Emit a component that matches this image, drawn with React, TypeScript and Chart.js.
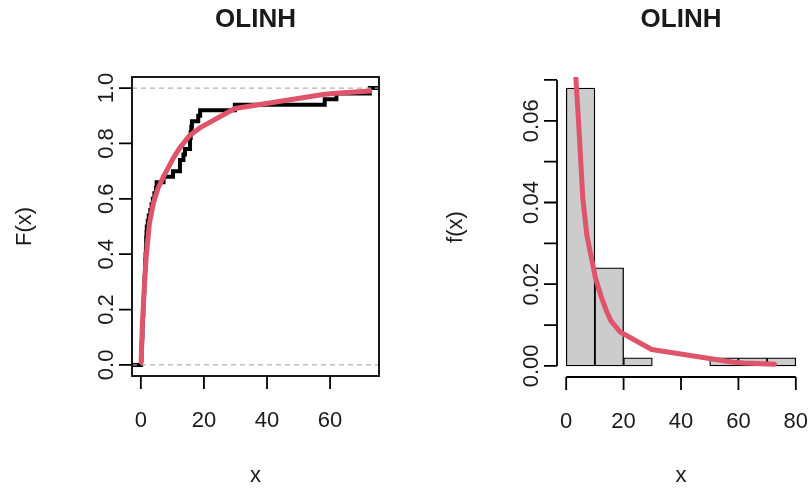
import React, { useEffect, useRef } from 'react';
import { Chart, registerables } from 'chart.js';

Chart.register(...registerables);

// ---------- data ----------
const TITLE = 'OLINH';

// sorted observations (n = 50) behind the empirical CDF
const olinh = [
  0.1, 0.2, 0.2, 0.3, 0.4, 0.5, 0.5, 0.6, 0.7, 0.8, 0.8, 0.9, 1.0, 1.1, 1.1, 1.2, 1.3, 1.4, 1.4, 1.5,
  1.6, 1.7, 1.7, 1.8, 1.9, 2.2, 2.5, 3.0, 3.4, 3.8, 4.3, 4.8, 5.0, 7.2, 10.2, 12.4, 12.4, 13.5, 14.0,
  15.6, 15.6, 15.8, 16.0, 16.2, 18.2, 18.8, 29.8, 58.3, 62.0, 72.6,
];

// fitted CDF (red curve, left panel)
const cdfX = [0.1, 0.5, 1.05, 1.7, 2.7, 4.0, 5.5, 7.2, 10.2, 12.4, 15.6, 18.8, 29.8, 58.3, 62.0, 72.6];
const cdfY = [0.01, 0.15, 0.27, 0.39, 0.51, 0.586, 0.64, 0.68, 0.745, 0.785, 0.83, 0.857, 0.926, 0.978, 0.981, 0.989];

// histogram (right panel)
const histBreaks = [0, 10, 20, 30, 40, 50, 60, 70, 80];
const histDensity = [0.068, 0.024, 0.002, 0, 0, 0.002, 0.002, 0.002];

// fitted density (red curve, right panel)
const densX = [3.0, 3.5, 4.3, 5.0, 5.8, 7.2, 10.2, 12.4, 14.0, 15.6, 18.8, 29.8, 58.3, 62.0, 72.6];
const densY = [0.076, 0.069, 0.06, 0.051, 0.041, 0.032, 0.0215, 0.0165, 0.0135, 0.011, 0.0083, 0.004, 0.0009, 0.0007, 0.0004];

// axis ticks
const cdfXTicks = [0, 20, 40, 60];
const cdfYTicks = [0, 0.2, 0.4, 0.6, 0.8, 1.0];
const histXTicks = [0, 20, 40, 60, 80];
const histYTicks = [0, 0.01, 0.02, 0.03, 0.04, 0.05, 0.06, 0.07];
const histYLabels = [0, 0.02, 0.04, 0.06];
const cdfRefLines = [0, 1];

// ---------- styling ----------
const FONT = '"Liberation Sans", Arial, Helvetica, sans-serif';
const RED = '#DF536B';
const INK = '#1a1a1a';
const W = 406;
const H = 490;

type AxesOpts = {
  box: boolean;
  xTicks: number[];
  yTicks: number[];
  yLabels: number[];
  yFmt: (v: number) => string;
  xlab: string;
  ylab: string;
  ylabX: number;
  refLines?: number[];
};

function makeAxesPlugin(o: AxesOpts) {
  return {
    id: 'raxes',
    afterDatasetsDraw(chart: any) {
      const ctx = chart.ctx as CanvasRenderingContext2D;
      const a = chart.chartArea;
      const xs = chart.scales.x;
      const ys = chart.scales.y;
      ctx.save();

      // reference lines
      if (o.refLines) {
        ctx.strokeStyle = '#B3B3B3';
        ctx.lineWidth = 1.2;
        ctx.setLineDash([5, 4]);
        ctx.beginPath();
        for (const v of o.refLines) {
          const py = ys.getPixelForValue(v);
          ctx.moveTo(a.left, py);
          ctx.lineTo(a.right, py);
        }
        ctx.stroke();
        ctx.setLineDash([]);
      }

      ctx.strokeStyle = '#000';
      ctx.lineWidth = 1.8;
      ctx.lineCap = 'butt';
      if (o.box) {
        ctx.strokeRect(a.left, a.top, a.right - a.left, a.bottom - a.top);
      } else {
        ctx.beginPath();
        ctx.moveTo(a.left, ys.getPixelForValue(o.yTicks[0]));
        ctx.lineTo(a.left, ys.getPixelForValue(o.yTicks[o.yTicks.length - 1]));
        ctx.moveTo(xs.getPixelForValue(o.xTicks[0]), a.bottom);
        ctx.lineTo(xs.getPixelForValue(o.xTicks[o.xTicks.length - 1]), a.bottom);
        ctx.stroke();
      }

      // ticks
      const TL = 13;
      ctx.beginPath();
      for (const v of o.xTicks) {
        const px = xs.getPixelForValue(v);
        ctx.moveTo(px, a.bottom);
        ctx.lineTo(px, a.bottom + TL);
      }
      for (const v of o.yTicks) {
        const py = ys.getPixelForValue(v);
        ctx.moveTo(a.left, py);
        ctx.lineTo(a.left - TL, py);
      }
      ctx.stroke();

      // tick labels
      ctx.fillStyle = INK;
      ctx.font = `22px ${FONT}`;
      ctx.textAlign = 'center';
      ctx.textBaseline = 'middle';
      for (const v of o.xTicks) {
        ctx.fillText(String(v), xs.getPixelForValue(v), a.bottom + 45);
      }
      for (const v of o.yLabels) {
        ctx.save();
        ctx.translate(a.left - 25, ys.getPixelForValue(v));
        ctx.rotate(-Math.PI / 2);
        ctx.fillText(o.yFmt(v), 0, 0);
        ctx.restore();
      }

      // axis titles
      const cx = (a.left + a.right) / 2;
      const cy = (a.top + a.bottom) / 2;
      ctx.fillText(o.xlab, cx, 476);
      ctx.save();
      ctx.translate(o.ylabX, cy);
      ctx.rotate(-Math.PI / 2);
      ctx.fillText(o.ylab, 0, 0);
      ctx.restore();

      // main title
      ctx.font = `bold 26px ${FONT}`;
      ctx.fillText(TITLE, cx, 20);

      ctx.restore();
    },
  };
}

function extend(lo: number, hi: number) {
  const r = hi - lo;
  return [lo - 0.04 * r, hi + 0.04 * r];
}

function CdfPanel() {
  const ref = useRef<HTMLCanvasElement>(null);
  useEffect(() => {
    if (!ref.current) return;
    const [xmin, xmax] = extend(olinh[0], olinh[olinh.length - 1]);
    const [ymin, ymax] = extend(0, 1);
    const n = olinh.length;
    const ecdf = [
      { x: xmin, y: 0 },
      ...olinh.map((x, i) => ({ x, y: (i + 1) / n })),
      { x: xmax, y: 1 },
    ];
    const chart = new Chart(ref.current, {
      type: 'line',
      data: {
        datasets: [
          {
            data: cdfX.map((x, i) => ({ x, y: cdfY[i] })),
            borderColor: RED,
            borderWidth: 5,
            pointRadius: 0,
            tension: 0,
            borderCapStyle: 'round',
            borderJoinStyle: 'round',
            clip: 0,
          } as any,
          {
            data: ecdf,
            borderColor: '#000',
            borderWidth: 4,
            pointRadius: 0,
            stepped: 'before',
            borderJoinStyle: 'miter',
            clip: 0,
          } as any,
        ],
      },
      options: {
        animation: false,
        responsive: false,
        events: [],
        layout: { padding: { left: 132, right: 27, top: 77, bottom: 114 } },
        plugins: { legend: { display: false }, tooltip: { enabled: false } },
        scales: {
          x: { type: 'linear', min: xmin, max: xmax, display: false },
          y: { type: 'linear', min: ymin, max: ymax, display: false },
        },
      },
      plugins: [
        makeAxesPlugin({
          box: true,
          xTicks: cdfXTicks,
          yTicks: cdfYTicks,
          yLabels: cdfYTicks,
          yFmt: (v) => v.toFixed(1),
          xlab: 'x',
          ylab: 'F(x)',
          ylabX: 25,
          refLines: cdfRefLines,
        }),
      ],
    });
    return () => chart.destroy();
  }, []);
  return <canvas ref={ref} width={W} height={H} style={{ position: 'absolute', left: 0, top: 0, width: W, height: H }} />;
}

function HistPanel() {
  const ref = useRef<HTMLCanvasElement>(null);
  useEffect(() => {
    if (!ref.current) return;
    const [xmin, xmax] = extend(histBreaks[0], histBreaks[histBreaks.length - 1]);
    const [ymin, ymax] = extend(0, Math.max(...histDensity));
    const chart = new Chart(ref.current, {
      type: 'bar',
      data: {
        datasets: [
          {
            type: 'line',
            data: densX.map((x, i) => ({ x, y: densY[i] })),
            borderColor: RED,
            borderWidth: 5,
            pointRadius: 0,
            tension: 0,
            borderCapStyle: 'round',
            borderJoinStyle: 'round',
            clip: 0,
          } as any,
          {
            type: 'bar',
            data: histDensity.map((d, i) => ({ x: (histBreaks[i] + histBreaks[i + 1]) / 2, y: d })),
            backgroundColor: '#CCCCCC',
            borderColor: '#000',
            borderWidth: 1.3,
            borderSkipped: false,
            barPercentage: 1,
            categoryPercentage: 1,
            grouped: false,
          } as any,
        ],
      },
      options: {
        animation: false,
        responsive: false,
        events: [],
        layout: { padding: { left: 151, right: 7, top: 77, bottom: 113 } },
        plugins: { legend: { display: false }, tooltip: { enabled: false } },
        scales: {
          x: { type: 'linear', min: xmin, max: xmax, display: false, offset: false },
          y: { type: 'linear', min: ymin, max: ymax, display: false },
        },
      },
      plugins: [
        makeAxesPlugin({
          box: false,
          xTicks: histXTicks,
          yTicks: histYTicks,
          yLabels: histYLabels,
          yFmt: (v) => v.toFixed(2),
          xlab: 'x',
          ylab: 'f(x)',
          ylabX: 50,
        }),
      ],
    });
    return () => chart.destroy();
  }, []);
  return <canvas ref={ref} width={W} height={H} style={{ position: 'absolute', left: W, top: 0, width: W, height: H }} />;
}

export default function App() {
  return (
    <div style={{ position: 'fixed', left: 0, top: 0, width: 812, height: 490, background: '#fff' }}>
      <CdfPanel />
      <HistPanel />
    </div>
  );
}
